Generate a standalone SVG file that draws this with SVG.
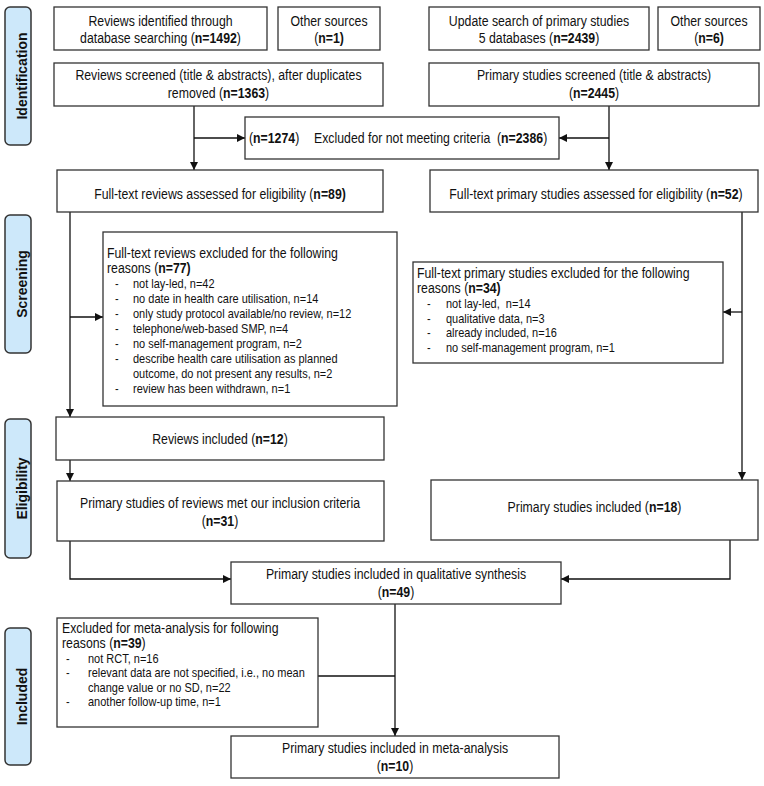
<svg xmlns="http://www.w3.org/2000/svg" width="764" height="786" viewBox="0 0 764 786">
<defs>
<marker id="ah" viewBox="0 0 10 10" refX="10" refY="5" markerWidth="8" markerHeight="8" markerUnits="userSpaceOnUse" orient="auto">
<path d="M0,0 L10,5 L0,10 z" fill="#111"/>
</marker>
<style>
.box{fill:#fff;stroke:#333;stroke-width:1.3}
.side{fill:#cde8fa;stroke:#333;stroke-width:1.5}
.t{font-family:"Liberation Sans",Arial,sans-serif;font-size:15px;fill:#111;white-space:pre}
.s{font-family:"Liberation Sans",Arial,sans-serif;font-size:13.4px;fill:#111;white-space:pre}
.c{text-anchor:middle}
.b{font-weight:bold}
.lab{font-family:"Liberation Sans",Arial,sans-serif;font-size:14px;font-weight:bold;fill:#111;text-anchor:middle}
.ln{fill:none;stroke:#111;stroke-width:1.3}
.ar{marker-end:url(#ah)}
</style>
</defs>
<rect width="764" height="786" fill="#fff"/>

<g id="phase-identification">
<rect class="side" x="5" y="7" width="26" height="138" rx="5"/>
<text class="lab" transform="translate(27,76) rotate(-90)">Identification</text>
</g>
<g id="phase-screening">
<rect class="side" x="5" y="215" width="26" height="138" rx="5"/>
<text class="lab" transform="translate(27,284) rotate(-90)">Screening</text>
</g>
<g id="phase-eligibility">
<rect class="side" x="5" y="419" width="26" height="139" rx="5"/>
<text class="lab" transform="translate(27,488.5) rotate(-90)">Eligibility</text>
</g>
<g id="phase-included">
<rect class="side" x="5" y="628" width="26" height="137" rx="5"/>
<text class="lab" transform="translate(27,696.5) rotate(-90)">Included</text>
</g>

<g id="connectors">
<path class="ln ar" d="M194,106 V170"/>
<path class="ln ar" d="M194,138 H245"/>
<path class="ln ar" d="M609,106 V170"/>
<path class="ln ar" d="M609,138 H559"/>
<path class="ln ar" d="M70,212 V417"/>
<path class="ln ar" d="M70,317 H103"/>
<path class="ln ar" d="M742,212 V480"/>
<path class="ln ar" d="M742,312 H723"/>
<path class="ln ar" d="M70,460 V481"/>
<path class="ln ar" d="M70,541 V579 H231"/>
<path class="ln ar" d="M730,540 V579 H561"/>
<path class="ln ar" d="M395,604 V736"/>
<path class="ln" d="M318,676 H395"/>
</g>

<g id="reviews-identified">
<rect class="box" x="54" y="7" width="213" height="43"/>
<text class="t c" transform="translate(160.5 0) scale(.82 1)" y="26">Reviews identified through</text>
<text class="t c" transform="translate(160.5 0) scale(.82 1)" y="43">database searching (<tspan class="b">n=1492</tspan>)</text>
</g>
<g id="other-sources-1">
<rect class="box" x="278" y="7" width="102" height="43"/>
<text class="t c" transform="translate(329 0) scale(.82 1)" y="26">Other sources</text>
<text class="t c" transform="translate(329 0) scale(.82 1)" y="43">(<tspan class="b">n=1)</tspan></text>
</g>
<g id="update-search">
<rect class="box" x="429" y="7" width="220" height="43"/>
<text class="t c" transform="translate(539 0) scale(.82 1)" y="26">Update search of primary studies</text>
<text class="t c" transform="translate(539 0) scale(.82 1)" y="43">5 databases (<tspan class="b">n=2439</tspan>)</text>
</g>
<g id="other-sources-6">
<rect class="box" x="658" y="7" width="102" height="43"/>
<text class="t c" transform="translate(709 0) scale(.82 1)" y="26">Other sources</text>
<text class="t c" transform="translate(709 0) scale(.82 1)" y="43">(<tspan class="b">n=6)</tspan></text>
</g>

<g id="reviews-screened">
<rect class="box" x="54" y="63" width="329" height="43"/>
<text class="t c" transform="translate(218.5 0) scale(.82 1)" y="80.5">Reviews screened (title &amp; abstracts), after duplicates</text>
<text class="t c" transform="translate(218.5 0) scale(.82 1)" y="98">removed (<tspan class="b">n=1363</tspan>)</text>
</g>
<g id="primary-screened">
<rect class="box" x="429" y="63" width="330" height="43"/>
<text class="t c" transform="translate(594 0) scale(.82 1)" y="80.5">Primary studies screened (title &amp; abstracts)</text>
<text class="t c" transform="translate(594 0) scale(.82 1)" y="98">(<tspan class="b">n=2445</tspan>)</text>
</g>

<g id="excluded-criteria">
<rect class="box" x="245" y="117" width="314" height="42"/>
<text class="t" transform="translate(249 0) scale(.82 1)" y="143">(<tspan class="b">n=1274</tspan>)</text>
<text class="t" transform="translate(314 0) scale(.82 1)" y="143">Excluded for not meeting criteria</text>
<text class="t" transform="translate(497 0) scale(.82 1)" y="143">(<tspan class="b">n=2386</tspan>)</text>
</g>

<g id="reviews-fulltext">
<rect class="box" x="57" y="170" width="326" height="42"/>
<text class="t c" transform="translate(220 0) scale(.82 1)" y="199">Full-text reviews assessed for eligibility (<tspan class="b">n=89)</tspan></text>
</g>
<g id="primary-fulltext">
<rect class="box" x="430" y="170" width="328" height="42"/>
<text class="t c" transform="translate(596 0) scale(.82 1)" y="199">Full-text primary studies assessed for eligibility (<tspan class="b">n=52</tspan>)</text>
</g>

<g id="reviews-excluded">
<rect class="box" x="103" y="232" width="294" height="174"/>
<text class="t" transform="translate(107 0) scale(.82 1)" y="258">Full-text reviews excluded for the following</text>
<text class="t" transform="translate(107 0) scale(.82 1)" y="273">reasons (<tspan class="b">n=77)</tspan></text>
<text class="s" transform="translate(115 0) scale(.82 1)" y="288">-</text><text class="s" transform="translate(133 0) scale(.82 1)" y="288">not lay-led, n=42</text>
<text class="s" transform="translate(115 0) scale(.82 1)" y="303">-</text><text class="s" transform="translate(133 0) scale(.82 1)" y="303">no date in health care utilisation, n=14</text>
<text class="s" transform="translate(115 0) scale(.82 1)" y="318">-</text><text class="s" transform="translate(133 0) scale(.82 1)" y="318">only study protocol available/no review, n=12</text>
<text class="s" transform="translate(115 0) scale(.82 1)" y="333">-</text><text class="s" transform="translate(133 0) scale(.82 1)" y="333">telephone/web-based SMP, n=4</text>
<text class="s" transform="translate(115 0) scale(.82 1)" y="348">-</text><text class="s" transform="translate(133 0) scale(.82 1)" y="348">no self-management program, n=2</text>
<text class="s" transform="translate(115 0) scale(.82 1)" y="363">-</text><text class="s" transform="translate(133 0) scale(.82 1)" y="363">describe health care utilisation as planned</text>
<text class="s" transform="translate(133 0) scale(.82 1)" y="378">outcome, do not present any results, n=2</text>
<text class="s" transform="translate(115 0) scale(.82 1)" y="393">-</text><text class="s" transform="translate(133 0) scale(.82 1)" y="393">review has been withdrawn, n=1</text>
</g>

<g id="primary-excluded">
<rect class="box" x="413" y="262" width="310" height="101"/>
<text class="t" transform="translate(417 0) scale(.82 1)" y="278">Full-text primary studies excluded for the following</text>
<text class="t" transform="translate(417 0) scale(.82 1)" y="293">reasons (<tspan class="b">n=34)</tspan></text>
<text class="s" transform="translate(427 0) scale(.82 1)" y="308">-</text><text class="s" transform="translate(446 0) scale(.82 1)" y="308">not lay-led,  n=14</text>
<text class="s" transform="translate(427 0) scale(.82 1)" y="323">-</text><text class="s" transform="translate(446 0) scale(.82 1)" y="323">qualitative data, n=3</text>
<text class="s" transform="translate(427 0) scale(.82 1)" y="337">-</text><text class="s" transform="translate(446 0) scale(.82 1)" y="337">already included, n=16</text>
<text class="s" transform="translate(427 0) scale(.82 1)" y="352">-</text><text class="s" transform="translate(446 0) scale(.82 1)" y="352">no self-management program, n=1</text>
</g>

<g id="reviews-included">
<rect class="box" x="56" y="417" width="328" height="43"/>
<text class="t c" transform="translate(220 0) scale(.82 1)" y="444">Reviews included (<tspan class="b">n=12</tspan>)</text>
</g>
<g id="primary-of-reviews">
<rect class="box" x="57" y="481" width="327" height="60"/>
<text class="t c" transform="translate(220 0) scale(.82 1)" y="508">Primary studies of reviews met our inclusion criteria</text>
<text class="t c" transform="translate(220 0) scale(.82 1)" y="526">(<tspan class="b">n=31</tspan>)</text>
</g>
<g id="primary-included">
<rect class="box" x="431" y="480" width="327" height="60"/>
<text class="t c" transform="translate(594.5 0) scale(.82 1)" y="512">Primary studies included (<tspan class="b">n=18</tspan>)</text>
</g>

<g id="qualitative-synthesis">
<rect class="box" x="231" y="562" width="330" height="42"/>
<text class="t c" transform="translate(396 0) scale(.82 1)" y="579">Primary studies included in qualitative synthesis</text>
<text class="t c" transform="translate(396 0) scale(.82 1)" y="597">(<tspan class="b">n=49</tspan>)</text>
</g>

<g id="meta-excluded">
<rect class="box" x="57" y="618" width="261" height="109"/>
<text class="t" transform="translate(62 0) scale(.82 1)" y="633">Excluded for meta-analysis for following</text>
<text class="t" transform="translate(62 0) scale(.82 1)" y="648">reasons (<tspan class="b">n=39</tspan>)</text>
<text class="s" transform="translate(66 0) scale(.82 1)" y="663">-</text><text class="s" transform="translate(88 0) scale(.82 1)" y="663">not RCT, n=16</text>
<text class="s" transform="translate(66 0) scale(.82 1)" y="677">-</text><text class="s" transform="translate(88 0) scale(.82 1)" y="677">relevant data are not specified, i.e., no mean</text>
<text class="s" transform="translate(88 0) scale(.82 1)" y="692">change value or no SD, n=22</text>
<text class="s" transform="translate(66 0) scale(.82 1)" y="706">-</text><text class="s" transform="translate(88 0) scale(.82 1)" y="706">another follow-up time, n=1</text>
</g>

<g id="meta-analysis">
<rect class="box" x="231" y="736" width="328" height="42"/>
<text class="t c" transform="translate(395 0) scale(.82 1)" y="753">Primary studies included in meta-analysis</text>
<text class="t c" transform="translate(395 0) scale(.82 1)" y="771">(<tspan class="b">n=10</tspan>)</text>
</g>
</svg>
